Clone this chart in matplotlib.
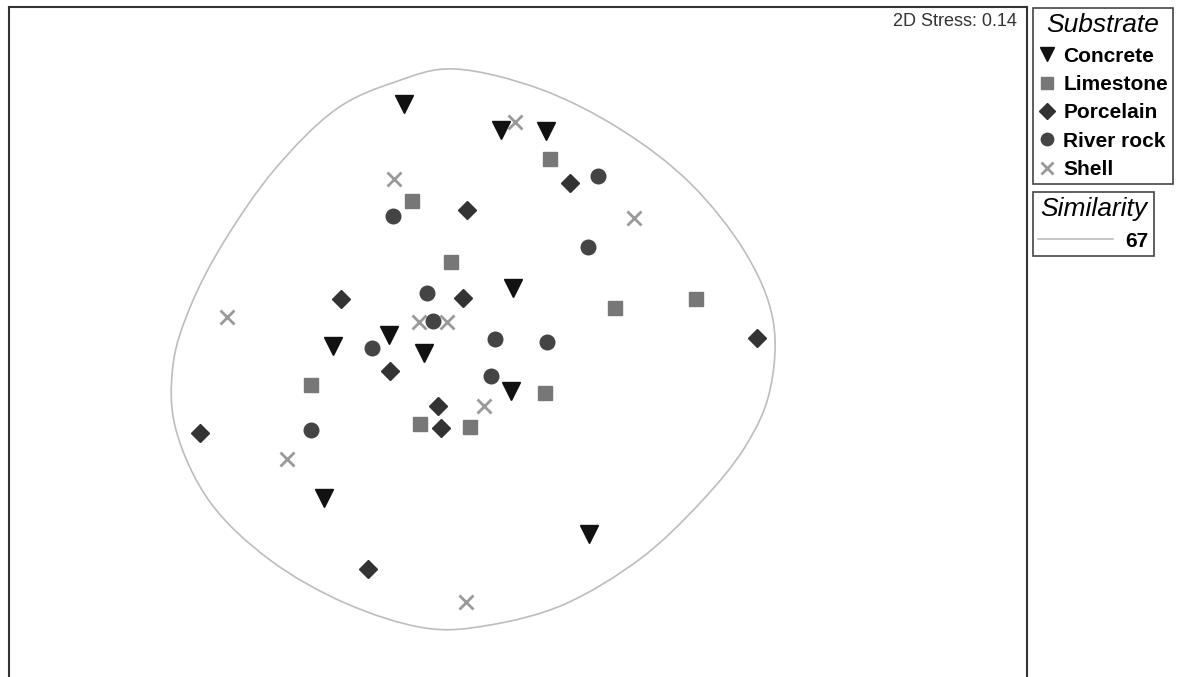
import matplotlib.pyplot as plt
import numpy as np
from matplotlib.path import Path
from matplotlib.patches import PathPatch
from matplotlib.lines import Line2D

plt.rcParams['font.family'] = ['Liberation Sans', 'DejaVu Sans']

# nMDS ordination scores (plot units, y runs downward)
concrete_x = [404, 501, 546, 513, 389, 333, 424, 511, 324, 589]
concrete_y = [104, 130, 131, 288, 335, 346, 353, 391, 498, 534]
limestone_x = [550, 412, 451, 615, 696, 311, 545, 420, 470]
limestone_y = [159, 201, 262, 308, 299, 385, 393, 424, 427]
porcelain_x = [570, 467, 341, 463, 757, 390, 438, 441, 200, 368]
porcelain_y = [183, 210, 299, 298, 338, 371, 406, 428, 433, 569]
river_x = [598, 393, 588, 427, 433, 372, 495, 547, 491, 311]
river_y = [176, 216, 247, 293, 321, 348, 339, 342, 376, 430]
shell_x = [515, 394, 634, 227, 419, 447, 484, 287, 466]
shell_y = [122, 179, 218, 317, 322, 322, 406, 459, 602]

# outline of the 67 % similarity cluster
contour_x = [455, 540, 620, 690, 745, 773, 770, 745, 700, 640, 565, 490,
             425, 345, 270, 210, 176, 173, 191, 225, 275, 335, 395]
contour_y = [69, 89, 129, 183, 252, 320, 390, 447, 503, 559, 604, 625,
             628, 603, 560, 502, 430, 365, 305, 240, 169, 110, 82]

stress = 0.14
similarity = 67


def closed_smooth_path(xs, ys):
    # Catmull-Rom through the outline points, as cubic bezier segments
    pts = np.column_stack([xs, ys]).astype(float)
    n = len(pts)
    verts = [pts[0]]
    codes = [Path.MOVETO]
    for i in range(n):
        p0, p1, p2, p3 = pts[i - 1], pts[i], pts[(i + 1) % n], pts[(i + 2) % n]
        verts += [p1 + (p2 - p0) / 6, p2 - (p3 - p1) / 6, p2]
        codes += [Path.CURVE4] * 3
    return Path(verts, codes)


fig = plt.figure(figsize=(11.79, 6.77), dpi=100)
ax = fig.add_axes([9 / 1179, 0, 1018 / 1179, 670 / 677])
ax.set_xlim(9, 1027)
ax.set_ylim(677, 7)
ax.set_xticks([])
ax.set_yticks([])
ax.spines['bottom'].set_visible(False)
for s in ['left', 'top', 'right']:
    ax.spines[s].set_color('#333333')
    ax.spines[s].set_linewidth(1.5)

outline_col = '#bdbdbd'
ax.add_patch(PathPatch(closed_smooth_path(contour_x, contour_y),
                       facecolor='none', edgecolor=outline_col, lw=1.2))

h1, = ax.plot(concrete_x, concrete_y, 'v', ls='none', ms=12.5,
              color='#111111', label='Concrete')
h2, = ax.plot(limestone_x, limestone_y, 's', ls='none', ms=10.5,
              color='#777777', label='Limestone')
h3, = ax.plot(porcelain_x, porcelain_y, 'D', ls='none', ms=9.5,
              color='#333333', label='Porcelain')
h4, = ax.plot(river_x, river_y, 'o', ls='none', ms=10.5,
              color='#444444', label='River rock')
h5, = ax.plot(shell_x, shell_y, 'x', ls='none', ms=10.5, mew=2,
              color='#9a9a9a', label='Shell')

ax.text(1017, 21, '2D Stress: %.2f' % stress, ha='right', va='center',
        fontsize=13, color='#333333')

leg1 = fig.legend(handles=[h1, h2, h3, h4, h5], loc='upper left',
                  bbox_to_anchor=(1033 / 1179, 1 - 8 / 677), borderaxespad=0,
                  title='Substrate', fancybox=False, framealpha=1,
                  edgecolor='#444444', prop={'size': 15, 'weight': 'bold'},
                  title_fontproperties={'size': 19, 'style': 'italic'},
                  handlelength=0.8, handletextpad=0.4, labelspacing=0.45,
                  borderpad=0.25, markerscale=0.85)
leg1.get_frame().set_linewidth(1.2)

sim_handle = Line2D([], [], color=outline_col, lw=1.2, label=str(similarity))
leg2 = fig.legend(handles=[sim_handle], loc='upper left',
                  bbox_to_anchor=(1033 / 1179, 1 - 192 / 677), borderaxespad=0,
                  title='Similarity', fancybox=False, framealpha=1,
                  edgecolor='#444444', prop={'size': 15, 'weight': 'bold'},
                  title_fontproperties={'size': 19, 'style': 'italic'},
                  handlelength=3.6, handletextpad=0.6, borderpad=0.25)
leg2.get_frame().set_linewidth(1.2)

fig.savefig('out.png', dpi=100)
